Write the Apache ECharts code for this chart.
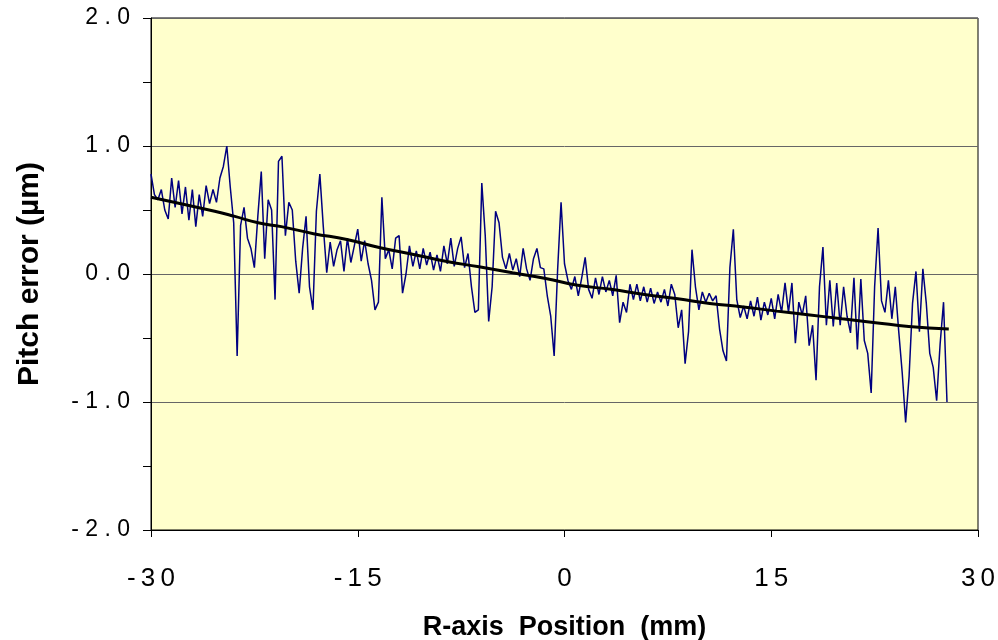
<!DOCTYPE html>
<html>
<head>
<meta charset="utf-8">
<script src="https://cdn.jsdelivr.net/npm/echarts@6/dist/echarts.min.js"></script>
<style>html,body{margin:0;padding:0;background:#fff}#c{width:998px;height:640px}</style>
</head>
<body>
<div id="c"></div>
<script>
// Measured pitch error (µm) vs R-axis position (mm)
const positions = [
-30,-29.75,-29.5,-29.25,-29,-28.75,-28.5,-28.25,-28,-27.75,-27.5,-27.25,-27,-26.75,-26.5,-26.25,-26,-25.75,-25.5,-25.25,
-25,-24.75,-24.5,-24.25,-24,-23.75,-23.5,-23.25,-23,-22.75,-22.5,-22.25,-22,-21.75,-21.5,-21.25,-21,-20.75,-20.5,-20.25,
-20,-19.75,-19.5,-19.25,-19,-18.75,-18.5,-18.25,-18,-17.75,-17.5,-17.25,-17,-16.75,-16.5,-16.25,-16,-15.75,-15.5,-15.25,
-15,-14.75,-14.5,-14.25,-14,-13.75,-13.5,-13.25,-13,-12.75,-12.5,-12.25,-12,-11.75,-11.5,-11.25,-11,-10.75,-10.5,-10.25,
-10,-9.75,-9.5,-9.25,-9,-8.75,-8.5,-8.25,-8,-7.75,-7.5,-7.25,-7,-6.75,-6.5,-6.25,-6,-5.75,-5.5,-5.25,
-5,-4.75,-4.5,-4.25,-4,-3.75,-3.5,-3.25,-3,-2.75,-2.5,-2.25,-2,-1.75,-1.5,-1.25,-1,-0.75,-0.5,-0.25,
0,0.25,0.5,0.75,1,1.25,1.5,1.75,2,2.25,2.5,2.75,3,3.25,3.5,3.75,4,4.25,4.5,4.75,
5,5.25,5.5,5.75,6,6.25,6.5,6.75,7,7.25,7.5,7.75,8,8.25,8.5,8.75,9,9.25,9.5,9.75,
10,10.25,10.5,10.75,11,11.25,11.5,11.75,12,12.25,12.5,12.75,13,13.25,13.5,13.75,14,14.25,14.5,14.75,
15,15.25,15.5,15.75,16,16.25,16.5,16.75,17,17.25,17.5,17.75,18,18.25,18.5,18.75,19,19.25,19.5,19.75,
20,20.25,20.5,20.75,21,21.25,21.5,21.75,22,22.25,22.5,22.75,23,23.25,23.5,23.75,24,24.25,24.5,24.75,
25,25.25,25.5,25.75,26,26.25,26.5,26.75,27,27.25,27.5,27.75
];
const pitchError = [
0.78,0.62,0.58,0.66,0.50,0.43,0.75,0.52,0.73,0.47,0.68,0.42,0.66,0.37,0.62,0.45,0.69,0.55,0.66,0.56,
0.75,0.84,1.00,0.68,0.40,-0.64,0.38,0.52,0.28,0.20,0.05,0.45,0.80,0.12,0.58,0.50,-0.20,0.88,0.92,0.30,
0.56,0.50,0.10,-0.15,0.20,0.45,-0.10,-0.28,0.49,0.78,0.37,0.01,0.25,0.06,0.19,0.26,0.02,0.28,0.09,0.22,
0.35,0.10,0.26,0.08,-0.05,-0.28,-0.22,0.60,0.12,0.19,0.04,0.28,0.30,-0.15,0.00,0.22,0.06,0.18,0.04,0.20,
0.07,0.17,0.03,0.15,0.02,0.22,0.08,0.28,0.06,0.20,0.29,0.05,0.16,-0.10,-0.30,-0.28,0.71,0.30,-0.37,-0.10,
0.49,0.40,0.13,0.04,0.16,0.03,0.12,-0.02,0.20,0.04,-0.05,0.12,0.20,0.05,0.04,-0.17,-0.33,-0.64,0.03,0.56,
0.08,-0.05,-0.12,-0.02,-0.17,-0.03,0.13,-0.12,-0.19,-0.03,-0.16,-0.02,-0.14,-0.05,-0.17,-0.01,-0.38,-0.22,-0.30,-0.08,
-0.20,-0.08,-0.21,-0.10,-0.22,-0.11,-0.23,-0.14,-0.22,-0.12,-0.25,-0.08,-0.16,-0.42,-0.28,-0.70,-0.45,0.19,-0.10,-0.28,
-0.14,-0.22,-0.15,-0.21,-0.17,-0.43,-0.60,-0.68,0.05,0.35,-0.20,-0.34,-0.25,-0.35,-0.21,-0.33,-0.18,-0.36,-0.22,-0.32,
-0.19,-0.35,-0.16,-0.30,-0.07,-0.30,-0.07,-0.54,-0.22,-0.32,-0.17,-0.56,-0.40,-0.83,-0.10,0.21,-0.40,-0.05,-0.41,-0.07,
-0.40,-0.10,-0.33,-0.46,-0.03,-0.59,-0.04,-0.52,-0.62,-0.93,-0.10,0.36,-0.21,-0.30,-0.05,-0.35,-0.10,-0.45,-0.77,-1.16,
-0.80,-0.23,0.02,-0.45,0.04,-0.23,-0.62,-0.73,-0.99,-0.55,-0.22,-1.00
];
// Fitted trend curve
const trendX = [-30,-25.38,-23.92,-22.23,-20.54,-18.21,-15.79,-13.37,-10.95,-8.63,-6.20,-3.78,-1.37,0.96,3.38,5.80,8.22,10.54,12.97,15.39,17.81,20.13,22.56,24.97,27.88];
const trendY = [0.60,0.49,0.45,0.40,0.37,0.315,0.27,0.205,0.153,0.10,0.056,0.009,-0.035,-0.088,-0.12,-0.16,-0.194,-0.23,-0.257,-0.29,-0.32,-0.35,-0.38,-0.41,-0.43];

const xTicks = [-30, -15, 0, 15, 30];
const yTicks = [-2, -1, 0, 1, 2];

const FONT = 'Liberation Sans, Arial, sans-serif';
const chart = echarts.init(document.getElementById('c'), null, {renderer: 'canvas'});
chart.setOption({
  animation: false,
  backgroundColor: '#ffffff',
  grid: {left: 151, right: 20, top: 18, bottom: 110, outerBoundsMode: 'none', containLabel: false,
    show: true, backgroundColor: '#FFFFCC', borderColor: '#000', borderWidth: 1},
  xAxis: {
    type: 'value', min: xTicks[0], max: xTicks[xTicks.length - 1], interval: 15,
    name: 'R-axis  Position  (mm)', nameLocation: 'middle', nameGap: 84,
    nameTextStyle: {fontFamily: FONT, fontWeight: 'bold', fontSize: 27, color: '#000'},
    axisLine: {onZero: false, lineStyle: {color: '#000', width: 1}},
    axisTick: {show: true, inside: false, length: 7, lineStyle: {color: '#000'}},
    axisLabel: {margin: 36, fontFamily: FONT, fontSize: 26, color: '#000',
      formatter: v => String(v).split('').join('\u2009')},
    splitLine: {show: false}
  },
  yAxis: {
    type: 'value', min: yTicks[0], max: yTicks[yTicks.length - 1], interval: 1,
    name: 'Pitch error (µm)', nameLocation: 'middle', nameGap: 106,
    nameTextStyle: {fontFamily: FONT, fontWeight: 'bold', fontSize: 30, color: '#000'},
    axisLine: {show: true, onZero: false, lineStyle: {color: '#000', width: 1}},
    axisTick: {show: true, length: 8, lineStyle: {color: '#000'}},
    minorTick: {show: true, splitNumber: 2, length: 8, lineStyle: {color: '#000'}},
    axisLabel: {margin: 21, fontFamily: FONT, fontSize: 23, color: '#000',
      formatter: v => v.toFixed(1).split('').join(' ')},
    splitLine: {show: true, lineStyle: {color: '#666', width: 1}}
  },
  series: [
    {
      type: 'line', showSymbol: false, symbol: 'none',
      data: positions.map((x, i) => [x, pitchError[i]]),
      lineStyle: {color: '#000080', width: 1.5}, z: 2
    },
    {
      type: 'line', smooth: true, showSymbol: false, symbol: 'none',
      data: trendX.map((x, i) => [x, trendY[i]]),
      lineStyle: {color: '#000', width: 3}, z: 3
    }
  ]
});
</script>
</body>
</html>
